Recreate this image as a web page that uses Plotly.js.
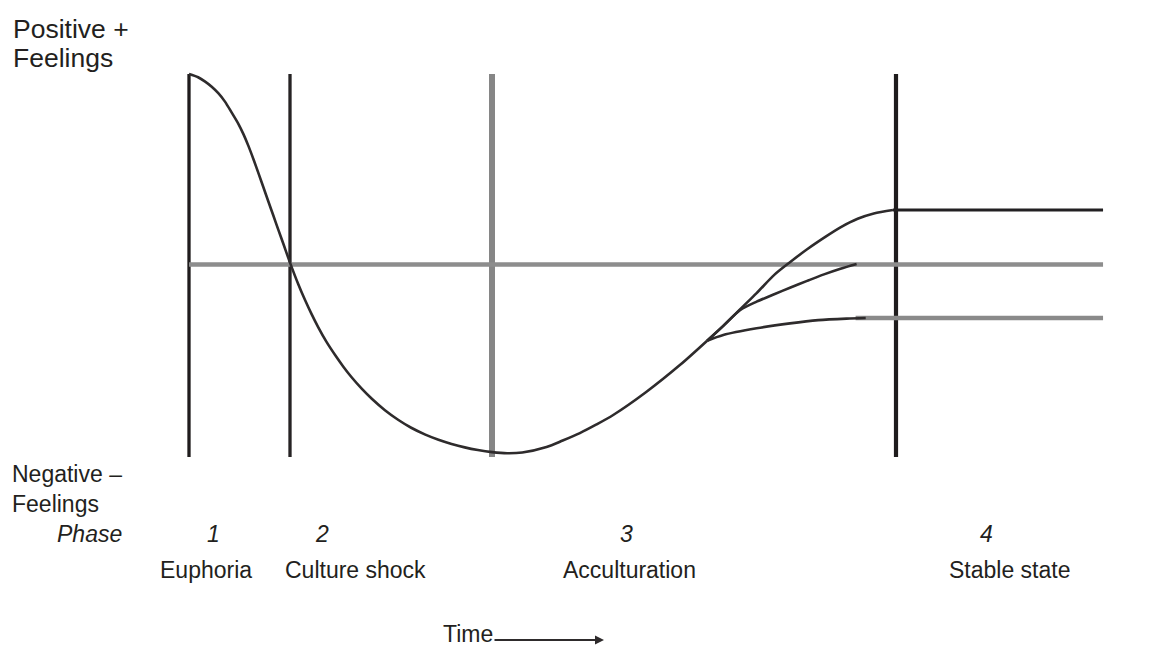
<!DOCTYPE html>
<html>
<head>
<meta charset="utf-8">
<script src="https://cdn.plot.ly/plotly-3.0.1.min.js"></script>
<style>
  html, body { margin: 0; padding: 0; background: #ffffff; }
  #chart { width: 1151px; height: 646px; }
</style>
</head>
<body>
<div id="chart"></div>
<script>
// ---- Data (time in phase units, feelings from -1 negative to +1 positive) ----
const phaseBoundaries = [0, 1, 3, 7];
const timeEnd = 9.05;

const trunkTime    = [0, 0.09, 0.16, 0.225, 0.29, 0.356, 0.423, 0.49, 0.54, 0.59, 0.64, 0.69, 0.74, 0.785, 0.835, 0.884, 0.934, 1.0,
                      1.08, 1.15, 1.215, 1.28, 1.36, 1.45, 1.53, 1.61, 1.71, 1.81, 1.94, 2.07, 2.2, 2.34, 2.47, 2.6, 2.73, 2.86,
                      3.0, 3.15, 3.3, 3.54, 3.7, 3.87, 4.03, 4.20, 4.53, 4.86, 5.13];
const trunkFeeling = [1, 0.983, 0.960, 0.933, 0.899, 0.855, 0.797, 0.737, 0.683, 0.620, 0.550, 0.476, 0.400, 0.332, 0.257, 0.183, 0.109, 0.010,
                      -0.101, -0.188, -0.262, -0.330, -0.405, -0.478, -0.538, -0.592, -0.652, -0.705, -0.765, -0.815, -0.857, -0.893, -0.920, -0.942, -0.960, -0.974,
                      -0.985, -0.991, -0.987, -0.958, -0.924, -0.885, -0.841, -0.790, -0.668, -0.528, -0.40];

const upperTime    = [5.13, 5.29, 5.455, 5.62, 5.80, 5.95, 6.12, 6.30, 6.45, 6.62, 6.78, 6.97];
const upperFeeling = [-0.40, -0.322, -0.236, -0.150, -0.052, 0.012, 0.080, 0.145, 0.195, 0.240, 0.268, 0.286];

const middleTime    = [5.13, 5.29, 5.455, 5.62, 5.80, 5.95, 6.12, 6.28, 6.45, 6.61];
const middleFeeling = [-0.40, -0.322, -0.240, -0.195, -0.155, -0.122, -0.086, -0.053, -0.022, 0.003];

const lowerTime    = [5.13, 5.29, 5.62, 5.95, 6.23, 6.51, 6.70];
const lowerFeeling = [-0.40, -0.370, -0.335, -0.309, -0.292, -0.284, -0.281];

const stableLevels = [0.286, 0, -0.281];
const stableStarts = [6.97, 0, 6.6];

const phaseNumbers = ['1', '2', '3', '4'];
const phaseNames   = ['Euphoria', 'Culture shock', 'Acculturation', 'Stable state'];

// ---- Layout helpers (pixel -> axis units, for text placement) ----
const X0 = 189, KX = 101, Y0 = 264.5, KY = 190.5;
const tx = p => (p - X0) / KX;
const fy = p => (Y0 - p) / KY;

const ink = '#231f20';
const traces = [];

// vertical phase boundary lines
const boundaryStyle = [
  {color: '#1f1c1d', width: 3.3},
  {color: '#262324', width: 3.3},
  {color: '#868686', width: 6},
  {color: '#1f1c1d', width: 4.2}
];
phaseBoundaries.forEach((b, i) => {
  traces.push({x: [b, b], y: [1, -1.01], mode: 'lines', hoverinfo: 'skip',
    line: boundaryStyle[i]});
});

// horizontal stable lines
const stableStyle = [
  {color: '#222022', width: 2.8},
  {color: '#8d8d8d', width: 4.4},
  {color: '#8a8a8a', width: 4.4}
];
stableLevels.forEach((lv, i) => {
  traces.push({x: [stableStarts[i], timeEnd], y: [lv, lv], mode: 'lines', hoverinfo: 'skip',
    line: stableStyle[i]});
});

// curves
const curveLine = {color: '#2e2b2c', width: 2.6, shape: 'spline', smoothing: 0.8};
[[trunkTime, trunkFeeling], [upperTime, upperFeeling], [middleTime, middleFeeling], [lowerTime, lowerFeeling]]
  .forEach(([xs, ys]) => traces.push({x: xs, y: ys, mode: 'lines', hoverinfo: 'skip', line: curveLine}));

// ---- Annotations ----
const big = {family: 'Liberation Sans, Arial, sans-serif', size: 26.5, color: ink};
const mid = {family: 'Liberation Sans, Arial, sans-serif', size: 23, color: ink};
const ann = [];
function txt(text, px, py, xanchor, font) {
  ann.push({text, x: tx(px), y: fy(py), xref: 'x', yref: 'y', xanchor, yanchor: 'middle',
    showarrow: false, font, borderpad: 0});
}
txt('Positive +', 12, 28.8, 'left', big);
txt('Feelings', 12, 58.3, 'left', big);
txt('Negative –', 11, 474, 'left', mid);
txt('Feelings', 11, 504, 'left', mid);
txt('<i>Phase</i>', 123, 534, 'right', mid);

const numX  = [213, 321.7, 626.7, 986.7];
const nameX = [206, 355, 629, 1009.5];
phaseNumbers.forEach((n, i) => txt('<i>' + n + '</i>', numX[i], 534, 'center', mid));
phaseNames.forEach((n, i) => txt(n, nameX[i], 569.5, 'center', mid));

txt('Time', 442, 633.5, 'left', mid);
ann.push({text: '', x: tx(604), y: fy(640), xref: 'x', yref: 'y', showarrow: true,
  ax: -111, ay: 0, arrowhead: 2, arrowsize: 0.9, arrowwidth: 2, arrowcolor: '#2e2b2c', standoff: 0});

const layout = {
  width: 1151, height: 646,
  margin: {l: 0, r: 0, t: 0, b: 0, pad: 0},
  paper_bgcolor: '#ffffff', plot_bgcolor: '#ffffff',
  showlegend: false,
  xaxis: {range: [tx(0), tx(1151)], visible: false, fixedrange: true},
  yaxis: {range: [fy(646), fy(0)], visible: false, fixedrange: true},
  annotations: ann
};

Plotly.newPlot('chart', traces, layout, {displayModeBar: false, staticPlot: true});
</script>
</body>
</html>
